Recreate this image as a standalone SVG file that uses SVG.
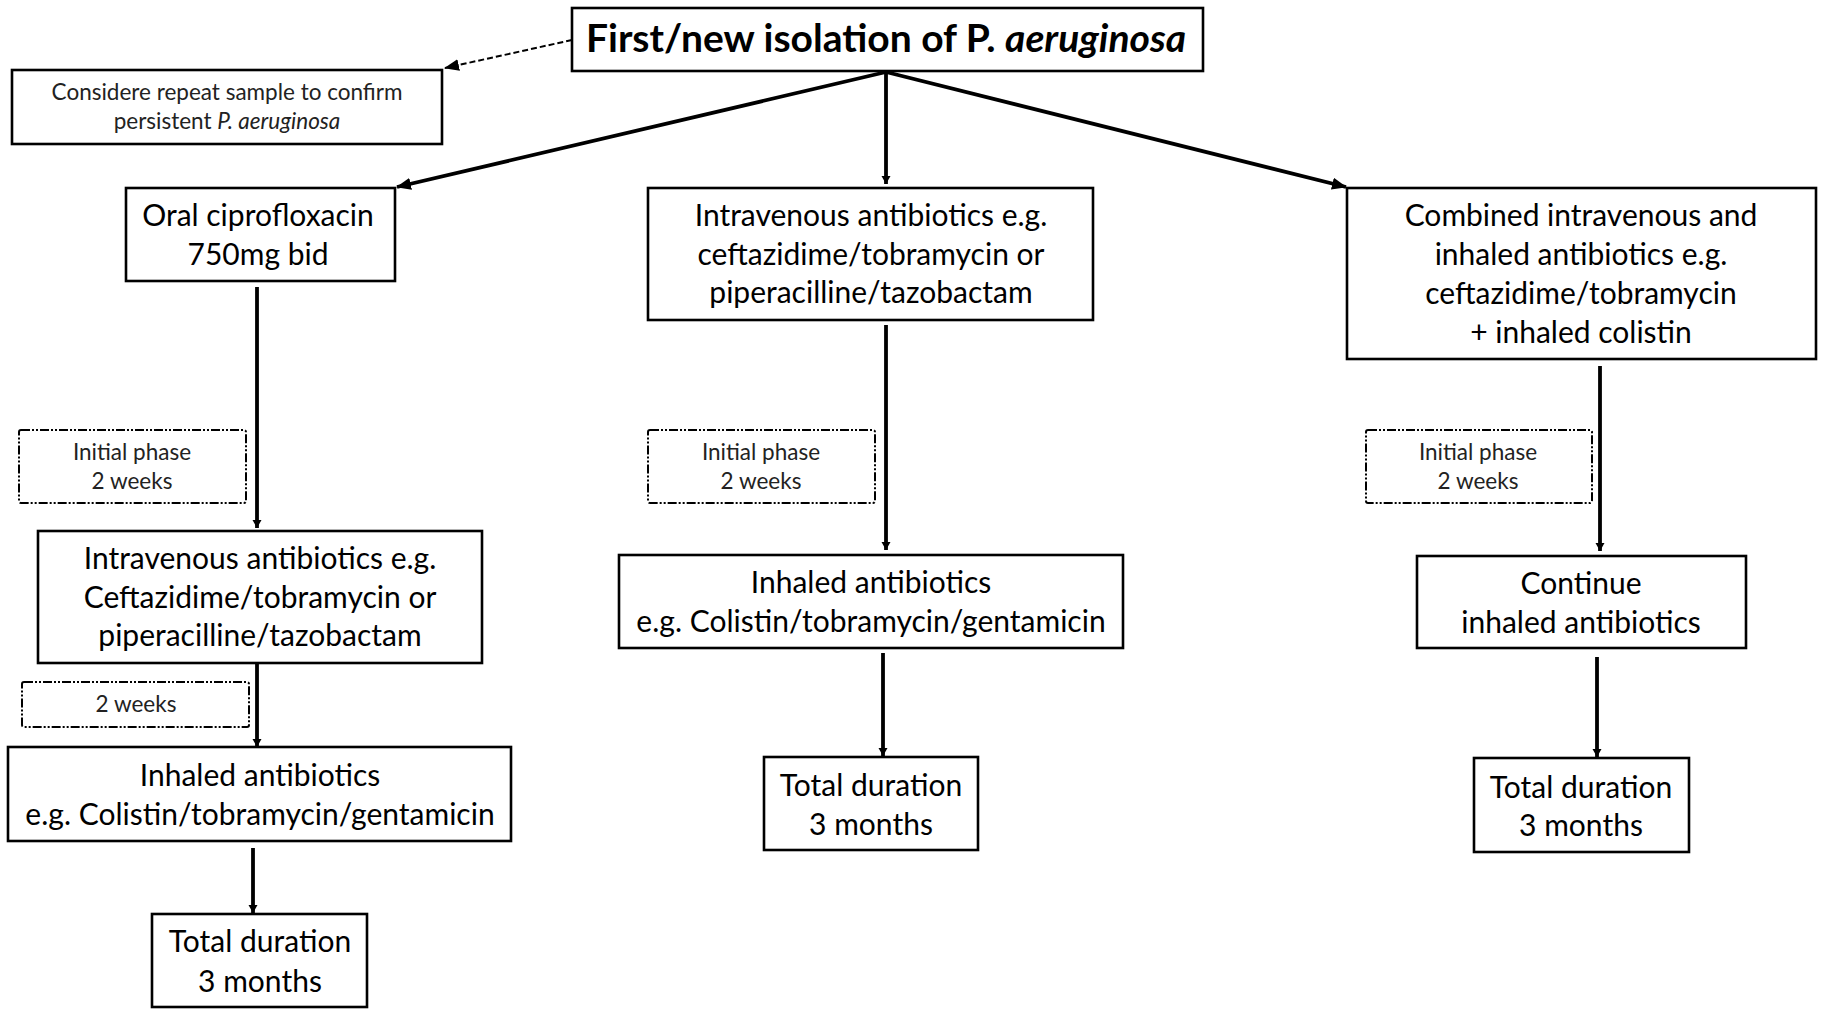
<svg xmlns="http://www.w3.org/2000/svg" width="1821" height="1009" viewBox="0 0 1821 1009">
<defs>
<style>
.box{fill:#fff;stroke:#000;stroke-width:2.6}
.dbox{fill:#fff;stroke:#000;stroke-width:2;stroke-dasharray:9 2 2 2 2 2}
.t{font-family:Lato,"Open Sans",sans-serif;font-size:30px;fill:#000;text-anchor:middle}
.s{font-family:Lato,"Open Sans",sans-serif;font-size:22.5px;fill:#222;text-anchor:middle}
.title{font-family:Lato,"Open Sans",sans-serif;font-size:39px;font-weight:bold;fill:#000;text-anchor:middle}
.c{stroke:#000;stroke-width:3.8;fill:none}
.cd{stroke:#000;stroke-width:2;fill:none;stroke-dasharray:6 3}
</style>
<marker id="ah" markerUnits="userSpaceOnUse" markerWidth="16" markerHeight="12" refX="14" refY="6" orient="auto"><path d="M0,0 L15,6 L0,12 z" fill="#000"/></marker>
<marker id="av" markerUnits="userSpaceOnUse" markerWidth="10" markerHeight="10" refX="8" refY="4.5" orient="auto"><path d="M0,0 L8,4.5 L0,9 z" fill="#000"/></marker>
</defs>
<rect width="1821" height="1009" fill="#fff"/>
<g id="connectors">
<line class="cd" x1="572" y1="40" x2="445" y2="68" marker-end="url(#ah)"/>
<line class="c" x1="886" y1="72" x2="397" y2="187" marker-end="url(#ah)"/>
<line class="c" x1="886" y1="72" x2="886" y2="184" marker-end="url(#av)"/>
<line class="c" x1="886" y1="72" x2="1346" y2="187" marker-end="url(#ah)"/>
<line class="c" x1="257" y1="287" x2="257" y2="528" marker-end="url(#av)"/>
<line class="c" x1="257" y1="663" x2="257" y2="747" marker-end="url(#av)"/>
<line class="c" x1="253" y1="848" x2="253" y2="913" marker-end="url(#av)"/>
<line class="c" x1="886" y1="325" x2="886" y2="550" marker-end="url(#av)"/>
<line class="c" x1="883" y1="653" x2="883" y2="756" marker-end="url(#av)"/>
<line class="c" x1="1600" y1="366" x2="1600" y2="551" marker-end="url(#av)"/>
<line class="c" x1="1597" y1="657" x2="1597" y2="757" marker-end="url(#av)"/>
</g>
<g id="title">
<rect class="box" x="572" y="8" width="631" height="63"/>
<text class="title" x="886" y="52">First/new isolation of P. <tspan font-style="italic">aeruginosa</tspan></text>
</g>
<g id="consider">
<rect class="box" x="12" y="70" width="430" height="74"/>
<text class="s" x="227" y="100">Considere repeat sample to confirm</text>
<text class="s" x="227" y="129">persistent <tspan font-style="italic">P. aeruginosa</tspan></text>
</g>
<g id="oral">
<rect class="box" x="126" y="188" width="269" height="93"/>
<text class="t" x="258" y="226">Oral ciprofloxacin</text>
<text class="t" x="258" y="265">750mg bid</text>
</g>
<g id="iv-mid">
<rect class="box" x="648" y="188" width="445" height="132"/>
<text class="t" x="871" y="226">Intravenous antibiotics e.g.</text>
<text class="t" x="871" y="265">ceftazidime/tobramycin or</text>
<text class="t" x="871" y="303">piperacilline/tazobactam</text>
</g>
<g id="combined">
<rect class="box" x="1347" y="188" width="469" height="171"/>
<text class="t" x="1581" y="226">Combined intravenous and</text>
<text class="t" x="1581" y="265">inhaled antibiotics e.g.</text>
<text class="t" x="1581" y="304">ceftazidime/tobramycin</text>
<text class="t" x="1581" y="343">+ inhaled colistin</text>
</g>
<g id="phase-left">
<rect class="dbox" x="19" y="430" width="227" height="73" rx="2"/>
<text class="s" x="132" y="460">Initial phase</text>
<text class="s" x="132" y="489">2 weeks</text>
</g>
<g id="phase-mid">
<rect class="dbox" x="648" y="430" width="227" height="73" rx="2"/>
<text class="s" x="761" y="460">Initial phase</text>
<text class="s" x="761" y="489">2 weeks</text>
</g>
<g id="phase-right">
<rect class="dbox" x="1366" y="430" width="226" height="73" rx="2"/>
<text class="s" x="1478" y="460">Initial phase</text>
<text class="s" x="1478" y="489">2 weeks</text>
</g>
<g id="iv-left">
<rect class="box" x="38" y="531" width="444" height="132"/>
<text class="t" x="260" y="569">Intravenous antibiotics e.g.</text>
<text class="t" x="260" y="608">Ceftazidime/tobramycin or</text>
<text class="t" x="260" y="646">piperacilline/tazobactam</text>
</g>
<g id="weeks-left">
<rect class="dbox" x="22" y="682" width="227" height="45" rx="2"/>
<text class="s" x="136" y="712">2 weeks</text>
</g>
<g id="inhaled-left">
<rect class="box" x="8" y="747" width="503" height="94"/>
<text class="t" x="260" y="786">Inhaled antibiotics</text>
<text class="t" x="260" y="825">e.g. Colistin/tobramycin/gentamicin</text>
</g>
<g id="total-left">
<rect class="box" x="152" y="914" width="215" height="93"/>
<text class="t" x="260" y="952">Total duration</text>
<text class="t" x="260" y="992">3 months</text>
</g>
<g id="inhaled-mid">
<rect class="box" x="619" y="555" width="504" height="93"/>
<text class="t" x="871" y="593">Inhaled antibiotics</text>
<text class="t" x="871" y="632">e.g. Colistin/tobramycin/gentamicin</text>
</g>
<g id="total-mid">
<rect class="box" x="764" y="757" width="214" height="93"/>
<text class="t" x="871" y="796">Total duration</text>
<text class="t" x="871" y="835">3 months</text>
</g>
<g id="continue">
<rect class="box" x="1417" y="556" width="329" height="92"/>
<text class="t" x="1581" y="594">Continue</text>
<text class="t" x="1581" y="633">inhaled antibiotics</text>
</g>
<g id="total-right">
<rect class="box" x="1474" y="758" width="215" height="94"/>
<text class="t" x="1581" y="798">Total duration</text>
<text class="t" x="1581" y="836">3 months</text>
</g>
</svg>
